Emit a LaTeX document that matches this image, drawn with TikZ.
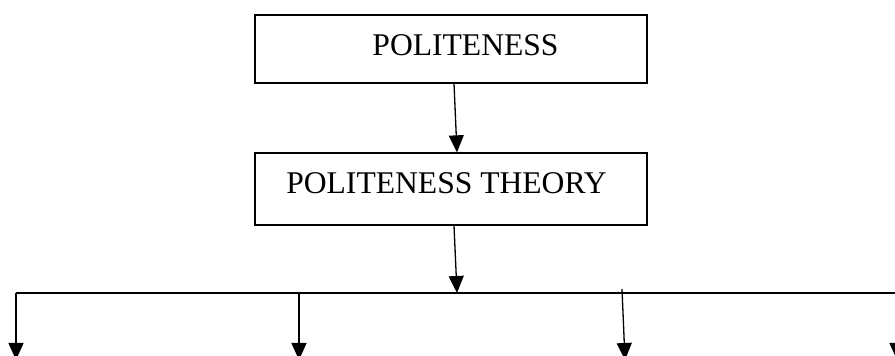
\documentclass[tikz,border=0pt]{standalone}
\usepackage{fontspec}
\setmainfont{Liberation Serif}
\usetikzlibrary{arrows.meta,positioning,calc}
\tikzset{
  boxnode/.style={rectangle,draw=black,line width=0.65pt,minimum width=196pt,
    text centered,font=\fontsize{15.8}{19}\selectfont,inner sep=0pt},
  arrow/.style={-{Triangle[length=8.5pt,width=7.5pt]},line width=0.65pt},
  branch/.style={line width=0.65pt},
}

\begin{document}
\begin{tikzpicture}[x=0.5pt,y=-0.5pt]
  \useasboundingbox (0,0) rectangle (895,356);
  \clip (0,0) rectangle (895,356);

  \node[boxnode, minimum height=34pt, text depth=3.7pt] (pol) at (451,49)
    {\hspace*{14.5pt}POLITENESS};
  \node[boxnode, minimum height=36pt, text depth=5.7pt] (theory) at (451,189)
    {POLITENESS THEORY\hspace*{4.5pt}};

  \draw[arrow] ([xshift=1.5pt]pol.south)--([xshift=3pt]theory.north);

  \coordinate (hub) at (457,293);
  \coordinate (b1) at (16,293);
  \coordinate (b2) at (299,293);
  \coordinate (b3) at (622,289);
  \coordinate (b4) at (897,293);
  \coordinate (e1) at (16,360);
  \coordinate (e2) at (299,360);
  \coordinate (e3) at (625,360);
  \coordinate (e4) at (897,360);

  \draw[arrow] ([xshift=1.5pt]theory.south)--(hub);
  \draw[branch] (b1)--(b4);

  \draw[arrow] (b1)--(e1);
  \draw[arrow] (b2)--(e2);
  \draw[arrow] (b3)--(e3);
  \draw[arrow] (b4)--(e4);
\end{tikzpicture}
\end{document}
